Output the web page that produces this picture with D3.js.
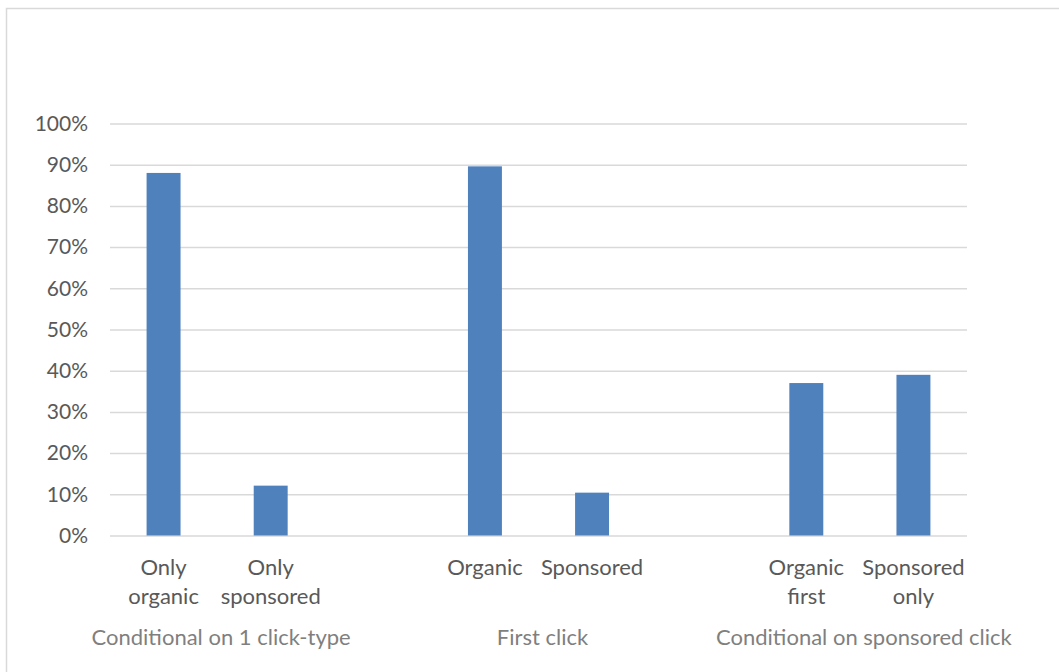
<!DOCTYPE html>
<html>
<head>
<meta charset="utf-8">
<script src="https://cdn.jsdelivr.net/npm/d3@7"></script>
<style>
  html, body { margin: 0; padding: 0; background: #fff; }
  svg { display: block; }
  text { font-family: Lato, "Open Sans", sans-serif; }
</style>
</head>
<body>
<svg id="chart" width="1059" height="672"></svg>
<script>
// Click-type shares, grouped by condition
const slots = ["s0", "s1", "s2", "s3", "s4", "s5", "s6", "s7"];
const categories = [["Only", "organic"], ["Only", "sponsored"], null, ["Organic"], ["Sponsored"], null, ["Organic", "first"], ["Sponsored", "only"]];
const values = [0.88, 0.121, null, 0.896, 0.104, null, 0.37, 0.39];
const groups = ["Conditional on 1 click-type", "First click", "Conditional on sponsored click"];
const groupSlots = [[0, 1], [3, 4], [6, 7]];
const yTicks = [0, 0.1, 0.2, 0.3, 0.4, 0.5, 0.6, 0.7, 0.8, 0.9, 1.0];

const svg = d3.select("#chart");

// Outer chart frame
svg.append("rect")
  .attr("x", 6.5).attr("y", 8.5)
  .attr("width", 1100).attr("height", 700)
  .attr("fill", "none").attr("stroke", "#D9D9D9").attr("stroke-width", 1.5);

const plotLeft = 110, plotRight = 967, plotTop = 123.5, plotBottom = 535.5;

const x = d3.scaleBand().domain(slots).range([plotLeft, plotRight]).paddingInner(0.683).paddingOuter(0.3415);
const xs = d3.scaleBand().domain(slots).range([plotLeft, plotRight]);
const y = d3.scaleLinear().domain([0, 1]).range([plotBottom, plotTop]);

// Gridlines and y tick labels
const yAxis = d3.axisLeft(y).tickValues(yTicks).tickSize(-(plotRight - plotLeft)).tickFormat(d3.format(".0%")).tickPadding(22);
const gy = svg.append("g").attr("transform", `translate(${plotLeft},0)`).call(yAxis);
gy.select(".domain").remove();
gy.selectAll(".tick line").attr("stroke", "#D9D9D9").attr("stroke-width", 1.5);
gy.selectAll(".tick text").attr("fill", "#595959").style("font-size", "21px");

// Bars
svg.append("g").selectAll("rect")
  .data(values.map((v, i) => ({ v, s: slots[i] })).filter(d => d.v !== null))
  .join("rect")
  .attr("x", d => x(d.s))
  .attr("width", x.bandwidth())
  .attr("y", d => y(d.v))
  .attr("height", d => y(0) - y(d.v))
  .attr("fill", "#4F81BD");

// Category labels
const cat = svg.append("g");
categories.forEach((lines, i) => {
  if (!lines) return;
  const cx = xs(slots[i]) + xs.bandwidth() / 2;
  const t = cat.append("text")
    .attr("x", cx)
    .attr("y", 575)
    .attr("text-anchor", "middle")
    .attr("fill", "#595959")
    .style("font-size", "22px");
  lines.forEach((l, j) => {
    t.append("tspan").attr("x", cx).attr("dy", j === 0 ? 0 : 29).text(l);
  });
});

// Group labels
svg.append("g").selectAll("text")
  .data(groups)
  .join("text")
  .attr("x", (d, i) => {
    const [a, b] = groupSlots[i];
    return (xs(slots[a]) + xs(slots[b]) + xs.bandwidth()) / 2 + 4;
  })
  .attr("y", 645)
  .attr("text-anchor", "middle")
  .attr("fill", "#7F7F7F")
  .style("font-size", "22px")
  .text(d => d);
</script>
</body>
</html>
